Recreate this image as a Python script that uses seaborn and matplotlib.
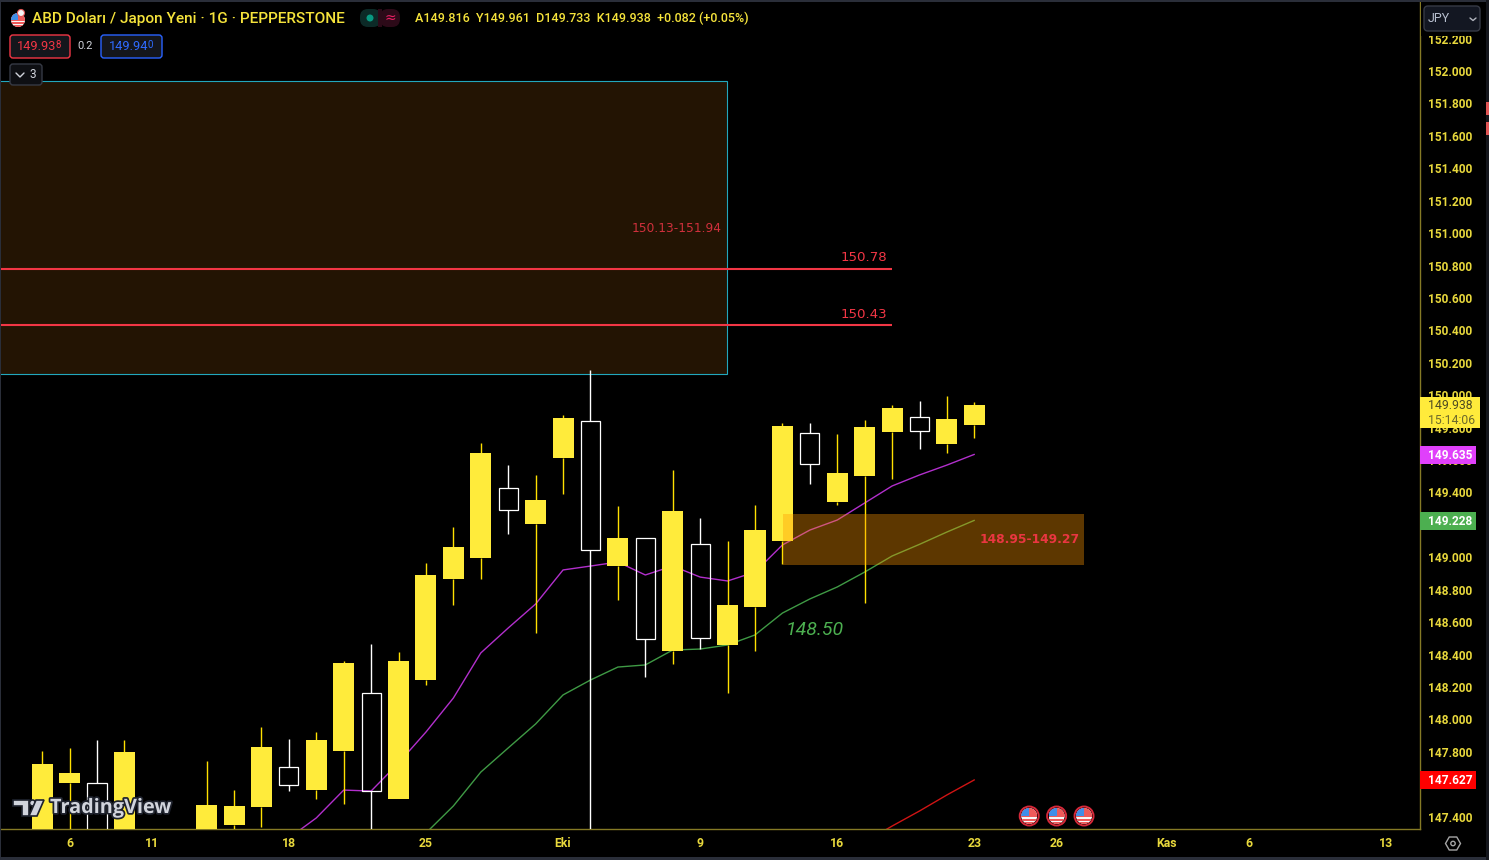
import matplotlib
matplotlib.use('Agg')
import matplotlib.pyplot as plt
import matplotlib.patheffects as pe
from matplotlib.patches import Circle, FancyBboxPatch, Polygon, Rectangle, RegularPolygon
import pandas as pd
import seaborn as sns

# candles (body_top / body_bottom, high / low)
idx = [-1, 0, 1, 2, 5, 6, 7, 8, 9, 10, 11, 12, 13, 14, 15, 16, 17, 18, 19, 20, 21, 22, 23, 24, 25, 26, 27, 28, 29, 30, 31, 32, 33]
body_top = [147.725, 147.669, 147.606, 147.799, 147.472, 147.466, 147.830, 147.704, 147.873, 148.348, 148.161, 148.360,
            148.891, 149.064, 149.643, 149.426, 149.353, 149.859, 149.839, 149.119, 149.117, 149.286, 149.080, 148.706,
            149.168, 149.810, 149.765, 149.520, 149.804, 149.921, 149.864, 149.853, 149.938]
body_bottom = [147.200, 147.608, 147.200, 147.200, 147.250, 147.349, 147.460, 147.597, 147.564, 147.805, 147.556, 147.509,
               148.243, 148.866, 148.996, 149.294, 149.205, 149.613, 149.047, 148.946, 148.498, 148.422, 148.504, 148.459,
               148.693, 149.101, 149.577, 149.341, 149.502, 149.773, 149.781, 149.699, 149.816]
high = [147.805, 147.824, 147.873, 147.873, 147.743, 147.564, 147.953, 147.879, 147.922, 148.360, 148.465, 148.416,
        148.965, 149.187, 149.705, 149.569, 149.508, 149.878, 150.155, 149.316, 149.117, 149.539, 149.242, 149.101,
        149.323, 149.828, 149.828, 149.761, 149.847, 149.940, 149.964, 149.995, 149.961]
low = [147.100, 147.250, 147.150, 147.150, 147.200, 147.280, 147.336, 147.560, 147.509, 147.478, 147.200, 147.509,
       148.212, 148.706, 148.866, 149.144, 148.533, 149.391, 147.000, 148.737, 148.262, 148.342, 148.434, 148.163,
       148.422, 148.959, 149.452, 149.323, 148.718, 149.483, 149.668, 149.643, 149.733]
hollow = [1, 8, 11, 16, 19, 21, 23, 27, 31]

ma_fast_idx = list(range(8, 34))
ma_fast = [147.268, 147.392, 147.564, 147.558, 147.731, 147.922, 148.132, 148.410, 148.564, 148.712, 148.922, 148.946, 148.971,
           148.891, 148.946, 148.878, 148.854, 148.909, 149.076, 149.168, 149.230, 149.335, 149.440, 149.508, 149.569, 149.635]
ma_mid_idx = list(range(13, 34))
ma_mid = [147.299, 147.466, 147.675, 147.824, 147.972, 148.151, 148.243, 148.323, 148.336, 148.428, 148.434, 148.459, 148.521,
          148.656, 148.743, 148.817, 148.909, 149.008, 149.080, 149.156, 149.228]
ma_slow_idx = [29, 30, 31, 32, 33]
ma_slow = [147.244, 147.342, 147.435, 147.534, 147.627]

supply_zone = (150.13, 151.94)
demand_zone = (148.95, 149.27)
resistance = [150.78, 150.43]

# 147.600 and 149.200 sit fully behind the price chips, so they are left out
price_ticks = [147.4, 147.8, 148.0, 148.2, 148.4, 148.6, 148.8, 149.0, 149.4, 149.6, 149.8, 150.0,
               150.2, 150.4, 150.6, 150.8, 151.0, 151.2, 151.4, 151.6, 151.8, 152.0, 152.2]
date_pos = [0, 3, 8, 13, 18, 23, 28, 33, 36, 40, 43, 48]
date_labels = ['6', '11', '18', '25', 'Eki', '9', '16', '23', '26', 'Kas', '6', '13']
event_idx = [35, 36, 37]

YELLOW = '#ffeb3b'
WICK = '#ffe000'
RED = '#f23645'
LABEL = '#e8d83c'
EDGE = '#857a25'
FONT = 'Roboto'

sns.set_theme(style='dark', rc={'axes.facecolor': 'black', 'figure.facecolor': 'black', 'savefig.facecolor': 'black'})
plt.rcParams['font.family'] = [FONT, 'DejaVu Sans']

W, H = 1489, 860
X0, BAR = 69.5, 27.42  # px of bar 0, px per bar
fig = plt.figure(figsize=(W / 100, H / 100), dpi=100)
ax = fig.add_axes([0, (H - 829) / H, 1420 / W, 829 / H])


def bar_at(px):
    return (px - X0) / BAR


ax.set_xlim(bar_at(0), bar_at(1420))
ax.set_ylim(152 - 758 / 162.1, 152 + 71 / 162.1)

# zones and levels
ax.add_patch(Rectangle((bar_at(-5), supply_zone[0]), bar_at(727.3) - bar_at(-5), supply_zone[1] - supply_zone[0],
                       facecolor='#231403', edgecolor='#22a7bd', lw=0.8, zorder=1))

lines = pd.concat([
    pd.DataFrame({'bar': ma_fast_idx, 'price': ma_fast, 'ma': 'fast'}),
    pd.DataFrame({'bar': ma_mid_idx, 'price': ma_mid, 'ma': 'mid'}),
    pd.DataFrame({'bar': ma_slow_idx, 'price': ma_slow, 'ma': 'slow'}),
])
sns.lineplot(data=lines, x='bar', y='price', hue='ma', palette={'fast': '#b22fcc', 'mid': '#3f9a45', 'slow': '#d01414'},
             lw=1.0, legend=False, errorbar=None, sort=False, ax=ax, zorder=2)

# candles
for i, top, bot, hi, lo in zip(idx, body_top, body_bottom, high, low):
    is_hollow = i in hollow
    ax.vlines(i, top, hi, color='white' if is_hollow else WICK, lw=1.0, zorder=3)
    ax.vlines(i, lo, bot, color='white' if is_hollow else WICK, lw=1.0, zorder=3)
    if is_hollow:
        ax.bar(i, top - bot, bottom=bot, width=0.70, facecolor='none', edgecolor='white', lw=0.9, zorder=4)
    else:
        ax.bar(i, top - bot, bottom=bot, width=0.766, color=YELLOW, lw=0, zorder=4)

ax.add_patch(Rectangle((bar_at(783), demand_zone[0]), bar_at(1084) - bar_at(783), demand_zone[1] - demand_zone[0],
                       facecolor='#ff9800', alpha=0.37, lw=0, zorder=5))

for level in resistance:
    ax.hlines(level, bar_at(-5), bar_at(892), color=RED, lw=1.5, zorder=6)
    ax.annotate(f'{level:.2f}', (bar_at(892), level), xytext=(-5, 4.5), textcoords='offset pixels', ha='right', va='bottom',
                color=RED, fontsize=9.6, family='DejaVu Sans', zorder=7)
ax.annotate('150.13-151.94', (bar_at(722), 151.03), ha='right', va='center', color='#d0303c', fontsize=8.8, family='DejaVu Sans', zorder=7)
ax.annotate('148.95-149.27', (bar_at(1079.5), 149.11), ha='right', va='center', color=RED, fontsize=8.8, fontweight='bold',
            family='DejaVu Sans', alpha=0.95, zorder=7)
ax.annotate('148.50', (bar_at(786), 148.55), ha='left', va='center', color='#4caf50', fontsize=14, style='italic', zorder=7)

# axes
ax.yaxis.tick_right()
ax.set_yticks(price_ticks)
ax.set_yticklabels([f'{p:.3f}' for p in price_ticks])
ax.set_xticks(date_pos)
ax.set_xticklabels(date_labels)
ax.tick_params(axis='y', length=0, pad=6, labelsize=8.6, labelcolor=LABEL)
ax.tick_params(axis='x', length=0, pad=6, labelsize=8.8, labelcolor=LABEL)
for lab in ax.get_yticklabels() + ax.get_xticklabels():
    lab.set_fontweight('bold')
ax.set_xlabel('')
ax.set_ylabel('')
ax.grid(False)
for side, spine in ax.spines.items():
    spine.set_visible(side in ('right', 'bottom'))
    spine.set_color(EDGE)
    spine.set_linewidth(1.0)

# overlay in screen pixels for the app chrome
hud = fig.add_axes([0, 0, 1, 1], zorder=10)
hud.set_xlim(0, W)
hud.set_ylim(H, 0)
hud.axis('off')
hud.patch.set_alpha(0)


def box(x0, y0, x1, y1, face, edge='none', radius=3, lw=1.0):
    hud.add_patch(FancyBboxPatch((x0, y0), x1 - x0, y1 - y0, boxstyle=f'round,pad=0,rounding_size={radius}',
                                 facecolor=face, edgecolor=edge, lw=lw))


def label(x, y, s, color='white', size=9, weight='normal', ha='left', **kw):
    return hud.text(x, y, s, color=color, fontsize=size, fontweight=weight, ha=ha, va='center', **kw)


def flag(x, y, r, ring=None):
    clip = Circle((x, y), r, transform=hud.transData)
    parts = [Rectangle((x - r, y - r), 2 * r, 2 * r, facecolor='#f7f7f7', lw=0)]
    for k in (-0.15, 0.35, 0.75):
        parts.append(Rectangle((x - r, y + k * r), 2 * r, 0.25 * r, facecolor='#ee5a5a', lw=0))
    parts.append(Rectangle((x - r, y - r), 2 * r, r * 0.9, facecolor='#ee5a5a', lw=0))
    parts.append(Rectangle((x - r, y - r), r * 1.0, r * 1.05, facecolor='#3f8ee8', lw=0))
    for p in parts:
        hud.add_patch(p)
        p.set_clip_path(clip)
    if ring:
        hud.add_patch(Circle((x, y), r + 1.5, facecolor='none', edgecolor=ring, lw=1.4))


# strips round the window
hud.add_patch(Rectangle((0, 0), W, 1.5, facecolor='#2a2e39', lw=0))
hud.add_patch(Rectangle((0, H - 3), W, 3, facecolor='#2a2e39', lw=0))
hud.add_patch(Rectangle((0, 0), 1.2, H, facecolor='#2a2e39', lw=0))
hud.add_patch(Rectangle((W - 3, 0), 3, H, facecolor='#14161c', lw=0))
hud.add_patch(Rectangle((W - 3, 102), 3, 13, facecolor='#e05555', lw=0))
hud.add_patch(Rectangle((W - 3, 122), 3, 13, facecolor='#e05555', lw=0))

# header
flag(18, 20, 7)
hud.add_patch(Circle((21, 13), 3.5, facecolor='#f4f4f4', edgecolor='#e05555', lw=0.8))
label(32, 18.5, 'ABD Doları / Japon Yeni · 1G · PEPPERSTONE', color='#f5e33b', size=11.05, weight='medium')
box(360, 9, 381, 27, '#0c2a27', radius=8)
box(380, 9, 400, 27, '#2c0a18', radius=8)
hud.add_patch(Rectangle((378, 9), 4, 18, facecolor='#2c0a18', lw=0))
hud.add_patch(Circle((370, 18), 3.5, facecolor='#089981', lw=0))
label(390, 18, '≈', color='#e91e63', size=10, ha='center', family='DejaVu Sans')
label(415, 18.5, 'A149.816  Y149.961  D149.733  K149.938  +0.082 (+0.05%)', color='#f5e33b', size=8.98, weight='medium')

box(10, 35, 70, 58, '#14161c', edge=RED)
label(17, 46.5, '149.93', color=RED, size=9.2)
label(55, 44.5, '8', color=RED, size=7)
label(85, 46, '0.2', color='#d1d4dc', size=8, ha='center')
box(101, 35, 162, 58, '#14161c', edge='#2962ff')
label(109, 46.5, '149.94', color='#2f6bff', size=9.2)
label(147, 44.5, '0', color='#2f6bff', size=7)
box(10, 64, 42, 85, '#0e0f13', edge='#363a45')
hud.plot([16, 20, 24], [73, 77, 73], color='#d1d4dc', lw=1.0)
label(33, 74.5, '3', color='#d1d4dc', size=8.5, ha='center')

# watermark
mark = dict(facecolor='#d1d4dc', edgecolor='#1e222d', lw=1.2)
hud.add_patch(Polygon([(13, 800), (29, 800), (29, 816), (22, 816), (22, 806), (13, 806)], closed=True, **mark))
hud.add_patch(Circle((32.5, 803), 3, **mark))
hud.add_patch(Polygon([(36, 800), (44, 800), (37, 816), (29, 816)], closed=True, **mark))
label(50, 808, 'TradingView', color='#d1d4dc', size=14.3, weight='bold', family='Open Sans',
      path_effects=[pe.withStroke(linewidth=2.5, foreground='#1e222d')])

# events on the time axis
for i in event_idx:
    flag(ax.transData.transform((i, 150))[0], 816, 8, ring='#d62839')

# price axis chips
hud.add_patch(Rectangle((1421, 2), 62, 33.5, facecolor='black', lw=0))
box(1424, 6, 1480, 31, '#131722', edge='#363a45', radius=4)
label(1428, 18.5, 'JPY', color='#b8c0d0', size=9)
hud.plot([1470, 1473, 1476], [18, 20.5, 18], color='#b2b5be', lw=1.0)
hud.add_patch(Rectangle((1420, 397), 60, 31, facecolor=YELLOW, lw=0))
label(1428, 405.5, '149.938', color='#4d4a22', size=8.8)
label(1428, 420, '15:14:06', color='#6e6a2c', size=8.8)
for top, face, txt in [(446, '#e040fb', '149.635'), (512, '#4caf50', '149.228'), (771, '#ff0000', '147.627')]:
    hud.add_patch(Rectangle((1420, top), 56, 17.5, facecolor=face, lw=0))
    label(1428, top + 9.5, txt, color='white', size=8.6, weight='bold')

# settings icon
hud.add_patch(RegularPolygon((1453, 843.5), 6, radius=7.5, orientation=3.14159 / 6, facecolor='none', edgecolor='#a6a6a6', lw=1.0))
hud.add_patch(Circle((1453, 843.5), 2.2, facecolor='none', edgecolor='#a6a6a6', lw=1.0))

fig.savefig('out.png', dpi=100)
